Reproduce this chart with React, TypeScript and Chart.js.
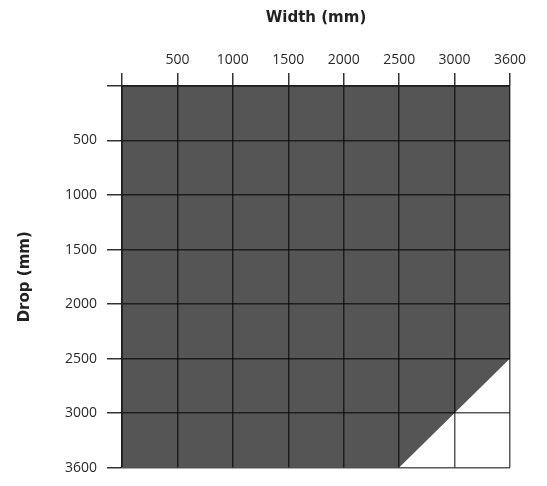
import React, { useEffect, useRef } from "react";
import { Chart, registerables } from "chart.js";

Chart.register(...registerables);

// Tick categories (equally spaced on the original chart)
const widthLabels = ["0", "500", "1000", "1500", "2000", "2500", "3000", "3600"];
const dropLabels = ["0", "500", "1000", "1500", "2000", "2500", "3000", "3600"];

// Boundary of the available (shaded) region: width -> max drop
const boundaryWidths = ["0", "2500", "3600"];
const boundaryDrops = ["3600", "3600", "2500"];

export default function App() {
  const ref = useRef<HTMLCanvasElement | null>(null);

  useEffect(() => {
    document.body.style.margin = "0";
    const canvas = ref.current;
    if (!canvas) return;
    const data = boundaryWidths.map((w, i) => ({ x: w, y: boundaryDrops[i] }));
    const chart = new Chart(canvas, {
      type: "line",
      data: {
        datasets: [
          {
            data: data as any,
            borderWidth: 0,
            borderColor: "rgba(0,0,0,0)",
            backgroundColor: "#555555",
            pointRadius: 0,
            fill: { value: 0 } as any,
            tension: 0,
          },
        ],
      },
      options: {
        animation: false,
        responsive: false,
        devicePixelRatio: 1,
        layout: { padding: { left: 0, right: 37, top: 0, bottom: 12 } },
        plugins: {
          legend: { display: false },
          tooltip: { enabled: false },
        },
        scales: {
          x: {
            type: "category",
            labels: widthLabels,
            position: "top",
            offset: false,
            border: { display: true, color: "rgba(0,0,0,0.65)", width: 1.5, z: 2 },
            grid: {
              z: 1,
              color: "rgba(0,0,0,0.65)",
              lineWidth: 1.5,
              tickLength: 13,
              tickColor: "#333333",
              tickWidth: 1.5,
            },
            ticks: {
              autoSkip: false,
              maxRotation: 0,
              padding: 5,
              color: "#2a2a2a",
              font: { family: "Open Sans", size: 14 },
              callback: (v: any, i: number) => (i === 0 ? "" : widthLabels[i]),
            },
            title: {
              display: true,
              text: "Width (mm)",
              color: "#222222",
              font: { family: "DejaVu Sans", size: 15, weight: "bold" },
              padding: { top: 9, bottom: 0 },
            },
            afterFit: (s: any) => {
              s.height = 86;
            },
          },
          y: {
            type: "category",
            labels: dropLabels,
            position: "left",
            offset: false,
            border: { display: true, color: "rgba(0,0,0,0.65)", width: 1.5, z: 2 },
            grid: {
              z: 1,
              color: "rgba(0,0,0,0.65)",
              lineWidth: 1.5,
              tickLength: 15,
              tickColor: "#333333",
              tickWidth: 1.5,
            },
            ticks: {
              autoSkip: false,
              padding: 10,
              color: "#2a2a2a",
              font: { family: "Open Sans", size: 14 },
              callback: (v: any, i: number) => (i === 0 ? "" : dropLabels[i]),
            },
            title: {
              display: true,
              text: "Drop (mm)",
              color: "#222222",
              font: { family: "DejaVu Sans", size: 15, weight: "bold" },
              padding: { top: 16, bottom: 0 },
            },
            afterFit: (s: any) => {
              s.width = 122;
            },
          },
        },
      },
    });
    return () => chart.destroy();
  }, []);

  return (
    <div style={{ width: 547, height: 486, background: "#ffffff" }}>
      <canvas ref={ref} width={547} height={486} style={{ display: "block" }} />
    </div>
  );
}
